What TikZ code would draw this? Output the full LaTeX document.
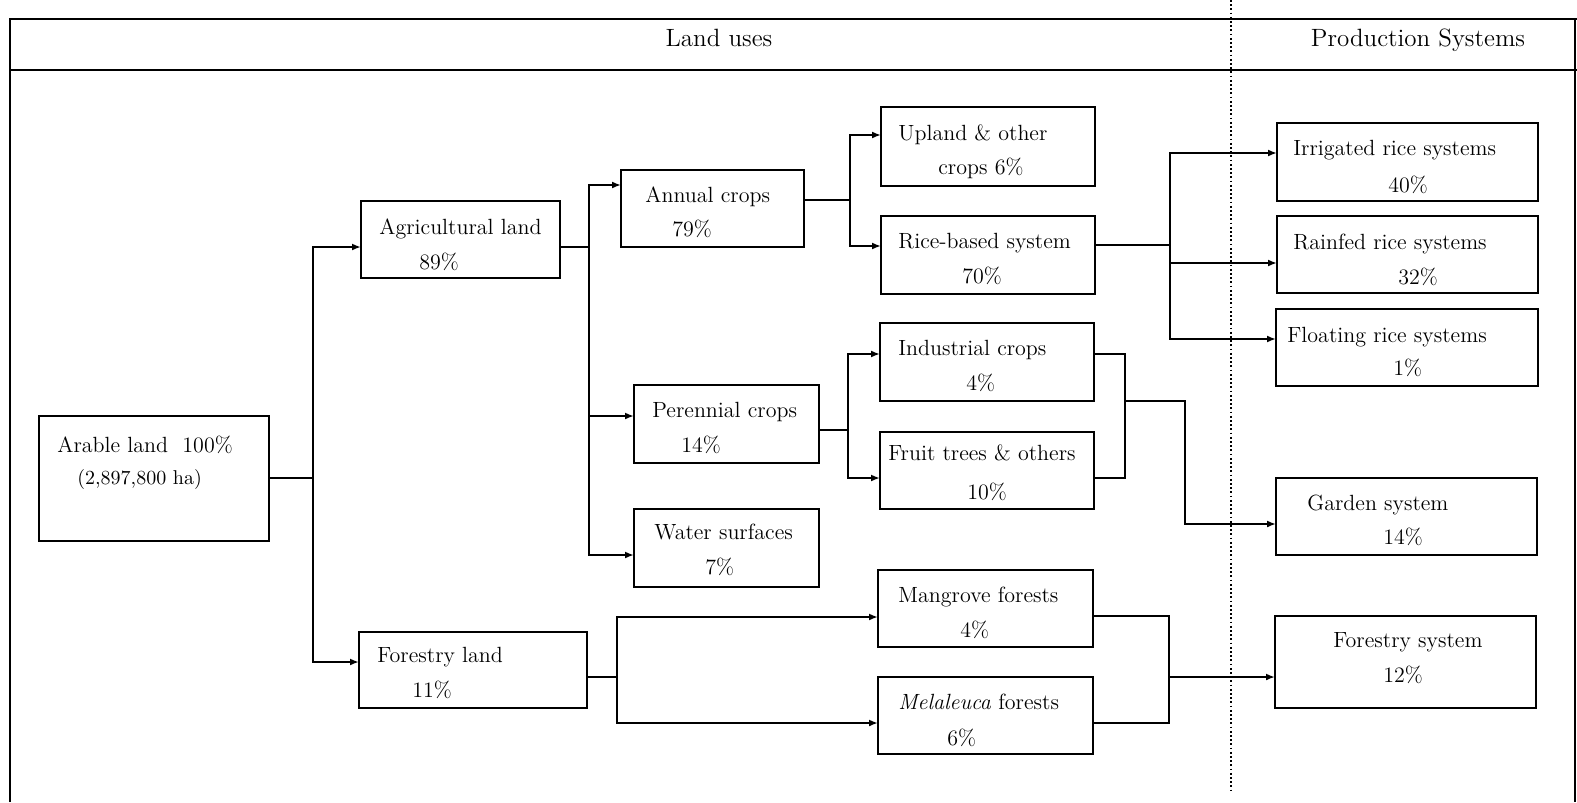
\documentclass[tikz,border=0pt]{standalone}
\usetikzlibrary{arrows.meta}
\begin{document}
\begin{tikzpicture}[x=0.5pt,y=-0.5pt,
	box/.style={draw,line width=1pt,inner sep=0pt,outer sep=0pt,minimum height=38.5pt},
	txt/.style={anchor=base west,inner sep=0pt,font=\fontsize{11}{13}\selectfont},
	head/.style={anchor=base,inner sep=0pt,font=\fontsize{12.5}{15}\selectfont},
	wire/.style={line width=0.9pt},
	link/.style={line width=0.9pt,-{Latex[length=4.5pt,width=3.5pt]}}]
	\useasboundingbox (0,0) rectangle (1577,802);
	% frame and header
	\draw [line width=1pt] (10,802) -- (10,19) -- (1577,19);
	\draw [line width=1pt] (10,70) -- (1577,70);
	\draw [line width=1pt] (1575,19) -- (1575,802);
	\draw [line width=0.9pt,dash pattern=on 0.9pt off 1.2pt] (1231,0) -- (1231,792);
	\node [head] (hland) at (719,47) {Land uses};
	\node [head] (hprod) at (1418,47) {Production Systems};
	% boxes
	\node [box,minimum width=115pt,minimum height=62.5pt] (arable) at (154,478.5) {};
	\node [box,minimum width=99.5pt] (agri) at (460.5,239.5) {};
	\node [box,minimum width=114pt,minimum height=38pt] (forest) at (473,670) {};
	\node [box,minimum width=91.5pt] (annual) at (712.5,208.5) {};
	\node [box,minimum width=92.5pt,minimum height=39pt] (perennial) at (726.5,424) {};
	\node [box,minimum width=92.5pt,minimum height=39pt] (water) at (726.5,548) {};
	\node [box,minimum width=107pt,minimum height=39.5pt] (upland) at (988,146.5) {};
	\node [box,minimum width=107pt,minimum height=39pt] (rice) at (988,255) {};
	\node [box,minimum width=107pt,minimum height=39pt] (industrial) at (987,362) {};
	\node [box,minimum width=107pt] (fruit) at (987,470.5) {};
	\node [box,minimum width=107.5pt] (mangrove) at (985.5,608.5) {};
	\node [box,minimum width=107.5pt] (melaleuca) at (985.5,715.5) {};
	\node [box,minimum width=130.5pt,minimum height=39pt] (irrigated) at (1407.5,162) {};
	\node [box,minimum width=130.5pt] (rainfed) at (1407.5,254.5) {};
	\node [box,minimum width=131pt] (floating) at (1407,347.5) {};
	\node [box,minimum width=130.5pt] (garden) at (1406.5,516.5) {};
	\node [box,minimum width=130.5pt,minimum height=46pt] (forestsys) at (1405.5,662) {};
	% texts
	\node [txt] (arable-a) at (57,452.5) {Arable land~~100\%};
	\node [txt,font=\fontsize{10}{12}\selectfont] (arable-b) at (77,484) {(2,897,800 ha)};
	\node [txt] (agri-a) at (379,234.5) {Agricultural land};
	\node [txt] (agri-b) at (419,269.5) {89\%};
	\node [txt] (forest-a) at (377,662.5) {Forestry land};
	\node [txt] (forest-b) at (412,697.5) {11\%};
	\node [txt] (annual-a) at (645,202.5) {Annual crops};
	\node [txt] (annual-b) at (672,236.5) {79\%};
	\node [txt] (perennial-a) at (652,417.5) {Perennial crops};
	\node [txt] (perennial-b) at (681,452.5) {14\%};
	\node [txt] (water-a) at (654,539.5) {Water surfaces};
	\node [txt] (water-b) at (705,574.5) {7\%};
	\node [txt] (upland-a) at (898,140.5) {Upland \& other};
	\node [txt] (upland-b) at (938,174.5) {crops 6\%};
	\node [txt] (rice-a) at (898,248.5) {Rice-based system};
	\node [txt] (rice-b) at (962,283.5) {70\%};
	\node [txt] (industrial-a) at (898,355.5) {Industrial crops};
	\node [txt] (industrial-b) at (966,390.5) {4\%};
	\node [txt] (fruit-a) at (888,460.5) {Fruit trees \& others};
	\node [txt] (fruit-b) at (967,499.5) {10\%};
	\node [txt] (mangrove-a) at (898,602.5) {Mangrove forests};
	\node [txt] (mangrove-b) at (960,637.5) {4\%};
	\node [txt] (melaleuca-a) at (898,709.5) {\textit{Melaleuca} forests};
	\node [txt] (melaleuca-b) at (947,745.5) {6\%};
	\node [txt] (irrigated-a) at (1293,155.5) {Irrigated rice systems};
	\node [txt] (irrigated-b) at (1388,192.5) {40\%};
	\node [txt] (rainfed-a) at (1293,249.5) {Rainfed rice systems};
	\node [txt] (rainfed-b) at (1398,284.5) {32\%};
	\node [txt] (floating-a) at (1287,342.5) {Floating rice systems};
	\node [txt] (floating-b) at (1393,375.5) {1\%};
	\node [txt] (garden-a) at (1307,510.5) {Garden system};
	\node [txt] (garden-b) at (1383,544.5) {14\%};
	\node [txt] (forestsys-a) at (1333,647.5) {Forestry system};
	\node [txt] (forestsys-b) at (1383,682.5) {12\%};
	% forks and joins
	\coordinate (fork1) at (313,478);
	\coordinate (fork2) at (589,247);
	\coordinate (fork3) at (850,200);
	\coordinate (fork4) at (1170,245);
	\coordinate (fork5) at (848,430);
	\coordinate (fork6) at (617,677);
	\coordinate (join1) at (1125,401);
	\coordinate (bend1) at (1185,401);
	\coordinate (join2) at (1169,677);
	% connectors
	\draw [wire] (arable.east |- fork1) -- (fork1);
	\draw [link] (fork1) |- (agri.west |- 0,247);
	\draw [link] (fork1) |- (forest.west |- 0,662);
	\draw [wire] (agri.east |- fork2) -- (fork2);
	\draw [link] (fork2) |- (annual.west |- 0,185);
	\draw [link] (fork2) |- (perennial.west |- 0,416);
	\draw [link] (fork2) |- (water.west |- 0,555);
	\draw [wire] (annual.east |- fork3) -- (fork3);
	\draw [link] (fork3) |- (upland.west |- 0,135);
	\draw [link] (fork3) |- (rice.west |- 0,246);
	\draw [wire] (rice.east |- fork4) -- (fork4);
	\draw [link] (fork4) |- (irrigated.west |- 0,153);
	\draw [link] (fork4) |- (rainfed.west |- 0,263);
	\draw [link] (fork4) |- (floating.west |- 0,339);
	\draw [wire] (perennial.east |- fork5) -- (fork5);
	\draw [link] (fork5) |- (industrial.west |- 0,354);
	\draw [link] (fork5) |- (fruit.west |- 0,478);
	\draw [wire] (industrial.east |- 0,354) -| (join1);
	\draw [wire] (fruit.east |- 0,478) -| (join1);
	\draw [link] (join1) -- (bend1) |- (garden.west |- 0,524);
	\draw [wire] (forest.east |- fork6) -- (fork6);
	\draw [link] (fork6) |- (mangrove.west |- 0,617);
	\draw [link] (fork6) |- (melaleuca.west |- 0,723);
	\draw [wire] (mangrove.east |- 0,616) -| (join2);
	\draw [wire] (melaleuca.east |- 0,723) -| (join2);
	\draw [link] (join2) -- (forestsys.west |- join2);
\end{tikzpicture}
\end{document}
